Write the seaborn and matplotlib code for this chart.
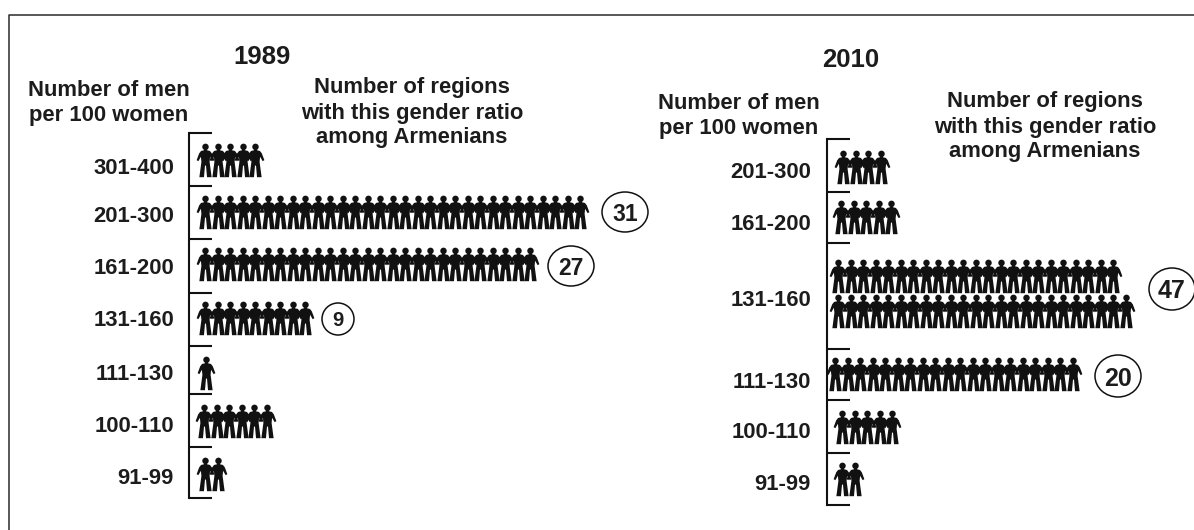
import numpy as np
import pandas as pd
import matplotlib.pyplot as plt
from matplotlib.path import Path
from matplotlib.patches import Ellipse
import seaborn as sns

# --- DATA ---
labels_1989 = ["301-400", "201-300", "161-200", "131-160", "111-130", "100-110", "91-99"]
counts_1989 = [5, 31, 27, 9, 1, 6, 2]
labels_2010 = ["201-300", "161-200", "131-160", "111-130", "100-110", "91-99"]
counts_2010 = [4, 5, 47, 20, 5, 2]
circled = [31, 27, 9, 47, 20]

# --- CONFIG ---
sns.set_style("white")
plt.rcParams['font.family'] = ['Liberation Sans', 'DejaVu Sans']
W, H = 1194, 530
STEP = 12.5
INK = "#111111"
TEXT = "#1c1c1c"


def person_marker():
    # little figure with arms held out to the neighbours, y points down
    t = np.linspace(0, 2 * np.pi, 24, endpoint=False)
    head = np.c_[0.19 * np.cos(t), -0.80 + 0.19 * np.sin(t)]
    body = np.array([
        [-0.09, -0.66], [0.09, -0.66], [0.09, -0.60], [0.26, -0.56], [0.37, -0.42],
        [0.52, -0.02], [0.42, 0.04], [0.27, -0.22], [0.24, 0.08], [0.36, 0.98],
        [0.09, 0.98], [0.03, 0.30], [-0.03, 0.30], [-0.09, 0.98], [-0.36, 0.98],
        [-0.24, 0.08], [-0.27, -0.22], [-0.42, 0.04], [-0.52, -0.02], [-0.37, -0.42],
        [-0.26, -0.56], [-0.09, -0.60],
    ])
    verts, codes = [], []
    for p in [head, body]:
        verts += [tuple(v) for v in p] + [tuple(p[0])]
        codes += [Path.MOVETO] + [Path.LINETO] * (len(p) - 1) + [Path.CLOSEPOLY]
    # matplotlib markers have y up
    return Path(np.array(verts) * [1, -1], codes)


def icon_rows(counts, row_y, row_x, split=None):
    rows = []
    for r, n in enumerate(counts):
        if split and n == split[0]:
            # long row is broken in two lines
            for i in range(split[1]):
                rows.append((row_x[r] + i * STEP, row_y[r] - 17.5))
            for i in range(n - split[1]):
                rows.append((row_x[r] + i * STEP, row_y[r] + 17.5))
        else:
            for i in range(n):
                rows.append((row_x[r] + i * STEP, row_y[r]))
    return pd.DataFrame(rows, columns=["x", "y"])


# layout in image pixels
ticks_1989 = [133, 186, 239, 293, 346, 394, 447, 498]
ticks_2010 = [139, 192, 243, 349, 400, 453, 505]
icons_y_1989 = [160, 212, 264, 318, 373, 421, 474]
icons_y_2010 = [167, 217, 293, 374, 427, 479]
icons_x_1989 = [205, 205, 205, 205, 206, 204, 205]
icons_x_2010 = [843, 841, 838, 835, 842, 842]
text_y_1989 = [168, 216, 268, 321, 375, 427, 479]
text_y_2010 = [172, 225, 300, 382, 433, 485]

fig = plt.figure(figsize=(W / 100, H / 100), dpi=100)
ax = fig.add_axes([0, 0, 1, 1])

icons = pd.concat([icon_rows(counts_1989, icons_y_1989, icons_x_1989),
                   icon_rows(counts_2010, icons_y_2010, icons_x_2010, split=(47, 23))])
sns.scatterplot(data=icons, x="x", y="y", marker=person_marker(), s=590, color=INK,
                linewidth=0, ax=ax, legend=False)
ax.set_xlim(0, W)
ax.set_ylim(H, 0)
ax.axis("off")

# frame, open at the right and bottom
ax.plot([9, 9, W + 5], [H + 5, 15, 15], color="#2a2a2a", lw=1.1)

# brackets
for xb, ticks in [(189, ticks_1989), (827, ticks_2010)]:
    ax.plot([xb, xb], [ticks[0], ticks[-1]], color=INK, lw=1.5, solid_capstyle="projecting")
    for t in ticks:
        ax.plot([xb, xb + 23], [t, t], color=INK, lw=1.5, solid_capstyle="butt")

txt = dict(color=TEXT, fontweight="bold", fontsize=15.8, linespacing=1.25)
for lab, y in zip(labels_1989, text_y_1989):
    ax.text(174, y, lab, ha="right", va="center", **txt)
for lab, y in zip(labels_2010, text_y_2010):
    ax.text(811, y, lab, ha="right", va="center", **txt)

ax.text(262, 57, "1989", ha="center", va="center", color=TEXT, fontweight="bold", fontsize=18.5)
ax.text(851, 60, "2010", ha="center", va="center", color=TEXT, fontweight="bold", fontsize=18.5)
ax.text(109, 103, "Number of men\nper 100 women", ha="center", va="center", **txt)
ax.text(739, 116, "Number of men\nper 100 women", ha="center", va="center", **txt)
ax.text(412, 113, "Number of regions\nwith this gender ratio\namong Armenians", ha="center", va="center", **txt)
ax.text(1045, 127, "Number of regions\nwith this gender ratio\namong Armenians", ha="center", va="center", **txt)

# circled counts
for val, cx, cy, w, h, fs in zip(circled, [625, 571, 338, 1172, 1118], [212, 266, 319, 289, 376],
                                 [46, 46, 32, 46, 46], [40, 40, 32, 42, 42], [16.5, 16.5, 14.5, 18, 18]):
    ax.add_patch(Ellipse((cx, cy), w, h, fill=False, ec=INK, lw=1.1, zorder=3))
    ax.text(cx, cy, str(val), ha="center", va="center_baseline", color=TEXT,
            fontweight="bold", fontsize=fs)

fig.savefig("out.png", dpi=100)
